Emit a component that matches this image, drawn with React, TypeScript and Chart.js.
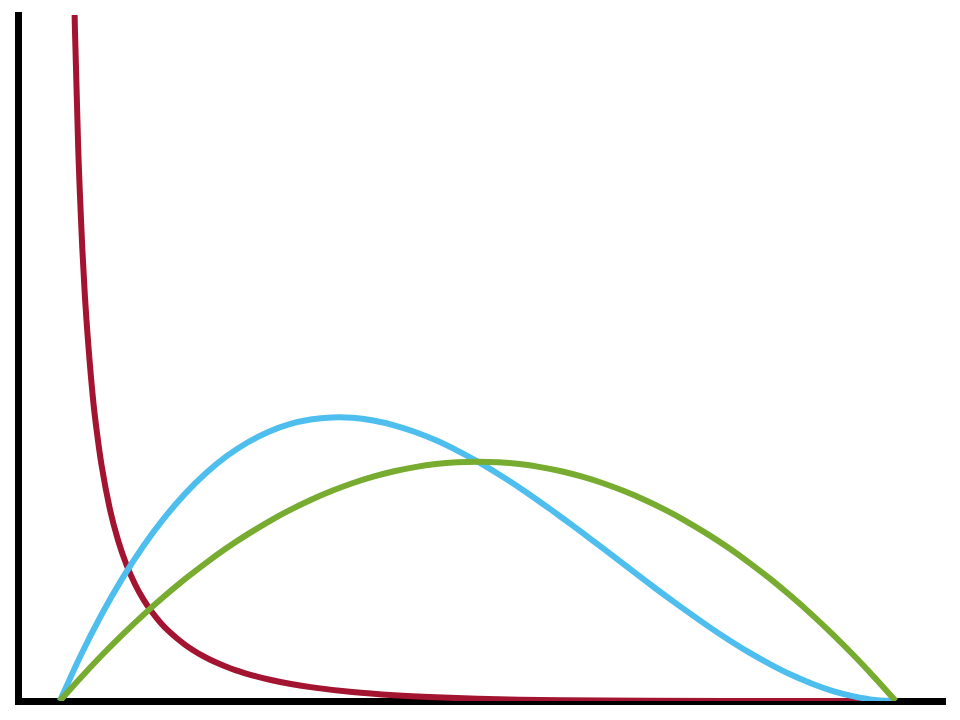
import React, { useEffect, useRef } from "react";
import { Chart, registerables } from "chart.js";

Chart.register(...registerables);

// Shared x positions for the blue and green curves
const xGrid = [
  0, 0.025, 0.05, 0.075, 0.1, 0.125, 0.15, 0.175, 0.2, 0.225, 0.25,
  0.275, 0.3, 0.325, 0.35, 0.375, 0.4, 0.425, 0.45, 0.475, 0.5,
  0.525, 0.55, 0.575, 0.6, 0.625, 0.65, 0.675, 0.7, 0.725, 0.75,
  0.775, 0.8, 0.825, 0.85, 0.875, 0.9, 0.925, 0.95, 0.975, 1.0,
];

const blueValues = [
  0, 0.285, 0.542, 0.77, 0.972, 1.148, 1.3, 1.429, 1.536, 1.622, 1.688,
  1.735, 1.764, 1.777, 1.775, 1.758, 1.728, 1.686, 1.634, 1.571, 1.5,
  1.421, 1.337, 1.246, 1.152, 1.055, 0.956, 0.856, 0.756, 0.658, 0.563,
  0.471, 0.384, 0.303, 0.23, 0.164, 0.108, 0.062, 0.029, 0.007, 0,
];

const greenValues = [
  0, 0.146, 0.285, 0.416, 0.54, 0.656, 0.765, 0.866, 0.96, 1.046, 1.125,
  1.196, 1.26, 1.316, 1.365, 1.406, 1.44, 1.466, 1.485, 1.496, 1.5,
  1.496, 1.485, 1.466, 1.44, 1.406, 1.365, 1.316, 1.26, 1.196, 1.125,
  1.046, 0.96, 0.866, 0.765, 0.656, 0.54, 0.416, 0.285, 0.146, 0,
];

// Red curve: steep near zero, read more densely
const redX = [
  0.012, 0.015, 0.018, 0.022, 0.027, 0.03, 0.034, 0.04, 0.045, 0.05,
  0.06, 0.07, 0.08, 0.09, 0.1, 0.11, 0.12, 0.13, 0.14, 0.15, 0.16,
  0.17, 0.18, 0.19, 0.2, 0.21, 0.22, 0.235, 0.25, 0.275, 0.3, 0.35,
  0.4, 0.45, 0.5, 0.55, 0.6, 0.7, 0.8, 0.9, 1.0,
];
const redValues = [
  6.25, 5.05, 4.23, 3.47, 2.83, 2.54, 2.24, 1.88, 1.66, 1.477,
  1.201, 1.002, 0.851, 0.732, 0.637, 0.559, 0.494, 0.439, 0.393, 0.352, 0.317,
  0.286, 0.259, 0.235, 0.213, 0.194, 0.177, 0.154, 0.135, 0.108, 0.087, 0.056,
  0.036, 0.023, 0.014, 0.0086, 0.005, 0.0014, 0.0002, 0, 0,
];

const X_MIN = -0.05;
const X_MAX = 1.059;
const Y_MIN = 0;
const Y_MAX = 4.3;

const BLUE = "#4DBEEE";
const GREEN = "#77AC30";
const RED = "#A2142F";

export default function App() {
  const canvasRef = useRef<HTMLCanvasElement | null>(null);

  useEffect(() => {
    const canvas = canvasRef.current;
    if (!canvas) return;
    const toPts = (xs: number[], ys: number[]) =>
      xs.map((x, i) => ({ x, y: ys[i] }));

    const line = (
      label: string,
      data: { x: number; y: number }[],
      color: string,
      monotone: boolean
    ) => ({
      label,
      data,
      borderColor: color,
      borderWidth: 6,
      pointRadius: 0,
      tension: 0.33,
      cubicInterpolationMode: monotone ? "monotone" : "default",
      fill: false,
      clip: 0,
    });

    const chart = new Chart(canvas, {
      type: "line",
      data: {
        datasets: [
          line("green", toPts(xGrid, greenValues), GREEN, false),
          line("blue", toPts(xGrid, blueValues), BLUE, false),
          line("red", toPts(redX, redValues), RED, true),
        ],
      },
      options: {
        responsive: false,
        animation: false,
        layout: { padding: { left: 18, top: 15, right: 15, bottom: 19 } },
        plugins: {
          legend: { display: false },
          tooltip: { enabled: false },
          title: { display: false },
        },
        scales: {
          x: {
            type: "linear",
            min: X_MIN,
            max: X_MAX,
            ticks: { display: false },
            grid: { display: false, drawTicks: false, tickLength: 0 },
            border: { display: true, color: "#000000", width: 7 },
          },
          y: {
            type: "linear",
            min: Y_MIN,
            max: Y_MAX,
            ticks: { display: false },
            grid: { display: false, drawTicks: false, tickLength: 0 },
            border: { display: true, color: "#000000", width: 7 },
          },
        },
      },
    });
    return () => chart.destroy();
  }, []);

  return (
    <div
      style={{
        position: "absolute",
        left: 0,
        top: 0,
        width: 960,
        height: 720,
        background: "#ffffff",
      }}
    >
      <canvas ref={canvasRef} width={960} height={720} />
    </div>
  );
}
